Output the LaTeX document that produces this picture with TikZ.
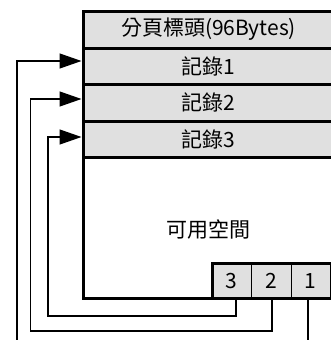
\documentclass[tikz,border=0pt]{standalone}
\usepackage{fontspec}
\setmainfont{Noto Sans CJK TC}
\usetikzlibrary{arrows.meta}
\definecolor{rowgray}{HTML}{E0E0E0}
\begin{document}
\begin{tikzpicture}[x=1pt,y=-1pt,
  thickline/.style={line width=3pt},
  rowbox/.style={draw,line width=3pt,fill=rowgray,minimum width=260pt,minimum height=36.5pt,inner sep=0pt,outer sep=0pt,anchor=north west},
  slotbox/.style={draw,line width=1pt,fill=rowgray,minimum width=39.5pt,minimum height=34.5pt,inner sep=0pt,outer sep=0pt,anchor=north west},
  lbl/.style={font=\fontsize{21}{24}\selectfont,inner sep=0pt},
  conn/.style={line width=1.3pt,black},
  arr/.style={conn,-{Triangle[length=22pt,width=15pt]}}]
\useasboundingbox (0,0) rectangle (331,340);
\clip (0,0) rectangle (331,340);
% lower (free space) region
\node[draw,line width=3pt,fill=white,minimum width=260pt,minimum height=140.5pt,inner sep=0pt,outer sep=0pt,anchor=north west] (free) at (83,157.5) {};
% rows
\node[rowbox] (hdr) at (83,11.5) {};
\node[rowbox] (r1) at (83,48) {};
\node[rowbox] (r2) at (83,84.5) {};
\node[rowbox] (r3) at (83,121) {};
\node[lbl] (thdr) at (208.5,29.5) {分頁標頭(96Bytes)};
\node[lbl] (tr1) at (208.5,66) {記錄1};
\node[lbl] (tr2) at (208.5,102.5) {記錄2};
\node[lbl] (tr3) at (208.5,139.5) {記錄3};
\node[lbl] (tfree) at (208.5,230) {可用空間};
% slot array
\node[slotbox] (s3) at (212,263.5) {};
\node[slotbox] (s2) at (251.5,263.5) {};
\node[slotbox] (s1) at (291,263.5) {};
\draw[thickline] (212,298) -- (212,263.5) -- (340,263.5);
\draw[thickline] (83,298) -- (340,298);
\node[lbl] (ts3) at (231.75,281) {3};
\node[lbl] (ts2) at (271.25,281) {2};
\node[lbl] (ts1) at (310.75,281) {1};
% connectors
\coordinate (a1) at (81.5,61);
\coordinate (a2) at (81.5,99);
\coordinate (a3) at (81.5,137);
\draw[arr] (s1.south -| 308,0) -- (308,350) -- (17,350) -- (17,61) -- (a1);
\draw[arr] (s2.south -| 272,0) -- (272,331) -- (30.5,331) -- (30.5,99) -- (a2);
\draw[arr] (s3.south -| 236,0) -- (236,316) -- (48,316) -- (48,137) -- (a3);
\end{tikzpicture}
\end{document}
